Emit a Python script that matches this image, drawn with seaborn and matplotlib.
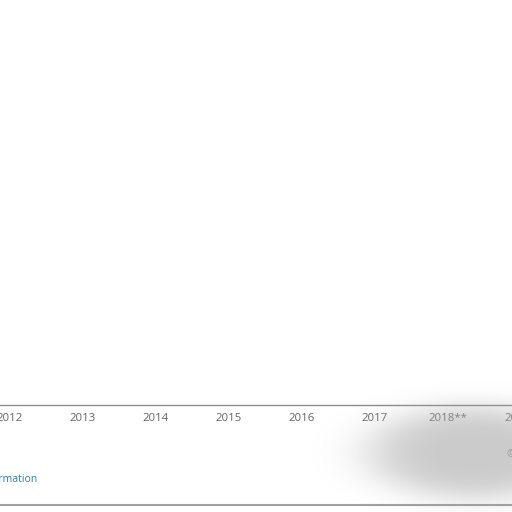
import numpy as np
import matplotlib
matplotlib.use("Agg")
import matplotlib.pyplot as plt
import seaborn as sns
import pandas as pd

# categories on the x axis (the plot area itself is blank in the reference)
years = ["2012", "2013", "2014", "2015", "2016", "2017", "2018**", "2019*"]
values = [0, 0, 0, 0, 0, 0, 0, 0]
footer_link = "Additional Information"

df = pd.DataFrame({"year": years, "value": values})

sns.set_theme(style="white")
plt.rcParams["font.family"] = ["Open Sans", "DejaVu Sans"]

fig = plt.figure(figsize=(5.12, 5.12), dpi=100)
fig.patch.set_facecolor("white")

# axes wider than the figure so the outer year labels are cut like the screenshot
ax = fig.add_axes([-26.5 / 512, 0.209, 584 / 512, 0.791])
sns.barplot(data=df, x="year", y="value", color="#0770cf", ax=ax)
ax.set_xlim(-0.5, 7.5)
ax.set_ylim(0, 1)
ax.set_xlabel("")
ax.set_ylabel("")
ax.set_yticks([])
for side in ["top", "right", "left"]:
    ax.spines[side].set_visible(False)
ax.spines["bottom"].set_color("#8c8c8c")
ax.spines["bottom"].set_linewidth(1.0)
ax.tick_params(axis="x", length=0, pad=6, labelsize=8.2, labelcolor="#666666")

# footer
fig.text(-0.142, (512 - 479) / 512, footer_link, color="#2f7fb5",
         fontsize=7.5, va="center", ha="left")
fig.text(0.99, (512 - 455) / 512, "©", color="#888888",
         fontsize=8, va="center", ha="left")
fig.add_artist(plt.Line2D([0, 1], [(512 - 505) / 512] * 2,
                          color="#a0a0a0", lw=1.5, transform=fig.transFigure))

# grey smudge at the bottom right of the screenshot
h, w = 512, 512
yy, xx = np.mgrid[0:h, 0:w]
blob = np.exp(-(((xx - 475) / 110.0) ** 2 + ((yy - 452) / 48.0) ** 2) ** 2)
rgba = np.zeros((h, w, 4))
rgba[..., :3] = 0.66
rgba[..., 3] = 0.6 * blob
fig.figimage(rgba, xo=0, yo=0, origin="upper", zorder=5)

fig.savefig("out.png", dpi=100, facecolor="white")
